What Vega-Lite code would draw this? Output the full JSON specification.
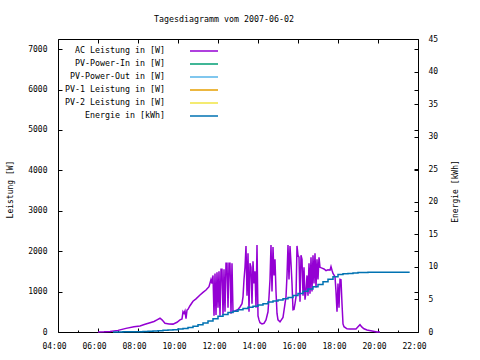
{
  "$schema": "https://vega.github.io/schema/vega-lite/v6.json",
  "width": 360,
  "height": 293,
  "autosize": {"type": "none"},
  "padding": {"left": 58, "top": 39, "right": 62, "bottom": 28},
  "background": "white",
  "config": {
    "view": {"stroke": "black", "strokeWidth": 1},
    "font": "DejaVu Sans Mono",
    "axis": {"labelFont": "DejaVu Sans Mono", "labelFontSize": 8, "labelColor": "black", "titleFont": "DejaVu Sans Mono", "titleFontSize": 8, "titleFontWeight": "normal", "titleColor": "black", "tickColor": "black", "domain": false, "grid": false, "tickSize": -4, "labelFlush": false, "labelOverlap": false}
  },
  "title": {"text": "Tagesdiagramm vom 2007-06-02", "font": "DejaVu Sans Mono", "fontSize": 8.3, "fontWeight": "normal", "color": "black", "anchor": "middle", "offset": 12, "dx": -14},
  "datasets": {
    "ac": [
      {"t":"2007-06-02T06:00","s":"AC Leistung in [W]","p":0},
      {"t":"2007-06-02T06:18","s":"AC Leistung in [W]","p":5},
      {"t":"2007-06-02T06:36","s":"AC Leistung in [W]","p":15},
      {"t":"2007-06-02T07:00","s":"AC Leistung in [W]","p":40},
      {"t":"2007-06-02T07:24","s":"AC Leistung in [W]","p":90},
      {"t":"2007-06-02T07:48","s":"AC Leistung in [W]","p":130},
      {"t":"2007-06-02T08:06","s":"AC Leistung in [W]","p":150},
      {"t":"2007-06-02T08:21","s":"AC Leistung in [W]","p":190},
      {"t":"2007-06-02T08:36","s":"AC Leistung in [W]","p":230},
      {"t":"2007-06-02T08:48","s":"AC Leistung in [W]","p":260},
      {"t":"2007-06-02T08:57","s":"AC Leistung in [W]","p":300},
      {"t":"2007-06-02T09:06","s":"AC Leistung in [W]","p":340},
      {"t":"2007-06-02T09:12","s":"AC Leistung in [W]","p":300},
      {"t":"2007-06-02T09:21","s":"AC Leistung in [W]","p":215},
      {"t":"2007-06-02T09:33","s":"AC Leistung in [W]","p":200},
      {"t":"2007-06-02T09:45","s":"AC Leistung in [W]","p":195},
      {"t":"2007-06-02T09:57","s":"AC Leistung in [W]","p":240},
      {"t":"2007-06-02T10:06","s":"AC Leistung in [W]","p":300},
      {"t":"2007-06-02T10:12","s":"AC Leistung in [W]","p":320},
      {"t":"2007-06-02T10:15","s":"AC Leistung in [W]","p":500},
      {"t":"2007-06-02T10:18","s":"AC Leistung in [W]","p":460},
      {"t":"2007-06-02T10:21","s":"AC Leistung in [W]","p":520},
      {"t":"2007-06-02T10:24","s":"AC Leistung in [W]","p":330},
      {"t":"2007-06-02T10:27","s":"AC Leistung in [W]","p":540},
      {"t":"2007-06-02T10:30","s":"AC Leistung in [W]","p":560},
      {"t":"2007-06-02T10:36","s":"AC Leistung in [W]","p":650},
      {"t":"2007-06-02T10:45","s":"AC Leistung in [W]","p":760},
      {"t":"2007-06-02T10:54","s":"AC Leistung in [W]","p":820},
      {"t":"2007-06-02T11:06","s":"AC Leistung in [W]","p":915},
      {"t":"2007-06-02T11:15","s":"AC Leistung in [W]","p":980},
      {"t":"2007-06-02T11:24","s":"AC Leistung in [W]","p":1040},
      {"t":"2007-06-02T11:33","s":"AC Leistung in [W]","p":1120},
      {"t":"2007-06-02T11:39","s":"AC Leistung in [W]","p":1300},
      {"t":"2007-06-02T11:42","s":"AC Leistung in [W]","p":1200},
      {"t":"2007-06-02T11:45","s":"AC Leistung in [W]","p":1400},
      {"t":"2007-06-02T11:48","s":"AC Leistung in [W]","p":400},
      {"t":"2007-06-02T11:51","s":"AC Leistung in [W]","p":1450},
      {"t":"2007-06-02T11:54","s":"AC Leistung in [W]","p":420},
      {"t":"2007-06-02T11:57","s":"AC Leistung in [W]","p":1480},
      {"t":"2007-06-02T12:00","s":"AC Leistung in [W]","p":600},
      {"t":"2007-06-02T12:03","s":"AC Leistung in [W]","p":1500},
      {"t":"2007-06-02T12:06","s":"AC Leistung in [W]","p":400},
      {"t":"2007-06-02T12:09","s":"AC Leistung in [W]","p":1550},
      {"t":"2007-06-02T12:12","s":"AC Leistung in [W]","p":1550},
      {"t":"2007-06-02T12:15","s":"AC Leistung in [W]","p":420},
      {"t":"2007-06-02T12:18","s":"AC Leistung in [W]","p":1550},
      {"t":"2007-06-02T12:21","s":"AC Leistung in [W]","p":500},
      {"t":"2007-06-02T12:24","s":"AC Leistung in [W]","p":1700},
      {"t":"2007-06-02T12:27","s":"AC Leistung in [W]","p":1700},
      {"t":"2007-06-02T12:30","s":"AC Leistung in [W]","p":600},
      {"t":"2007-06-02T12:33","s":"AC Leistung in [W]","p":1700},
      {"t":"2007-06-02T12:36","s":"AC Leistung in [W]","p":1700},
      {"t":"2007-06-02T12:39","s":"AC Leistung in [W]","p":450},
      {"t":"2007-06-02T12:42","s":"AC Leistung in [W]","p":1700},
      {"t":"2007-06-02T12:45","s":"AC Leistung in [W]","p":500},
      {"t":"2007-06-02T12:51","s":"AC Leistung in [W]","p":520},
      {"t":"2007-06-02T13:00","s":"AC Leistung in [W]","p":560},
      {"t":"2007-06-02T13:06","s":"AC Leistung in [W]","p":620},
      {"t":"2007-06-02T13:12","s":"AC Leistung in [W]","p":700},
      {"t":"2007-06-02T13:15","s":"AC Leistung in [W]","p":870},
      {"t":"2007-06-02T13:18","s":"AC Leistung in [W]","p":1300},
      {"t":"2007-06-02T13:21","s":"AC Leistung in [W]","p":1600},
      {"t":"2007-06-02T13:24","s":"AC Leistung in [W]","p":2130},
      {"t":"2007-06-02T13:27","s":"AC Leistung in [W]","p":900},
      {"t":"2007-06-02T13:30","s":"AC Leistung in [W]","p":1950},
      {"t":"2007-06-02T13:33","s":"AC Leistung in [W]","p":500},
      {"t":"2007-06-02T13:36","s":"AC Leistung in [W]","p":1700},
      {"t":"2007-06-02T13:39","s":"AC Leistung in [W]","p":1600},
      {"t":"2007-06-02T13:42","s":"AC Leistung in [W]","p":700},
      {"t":"2007-06-02T13:45","s":"AC Leistung in [W]","p":1750},
      {"t":"2007-06-02T13:48","s":"AC Leistung in [W]","p":1200},
      {"t":"2007-06-02T13:51","s":"AC Leistung in [W]","p":1500},
      {"t":"2007-06-02T13:54","s":"AC Leistung in [W]","p":600},
      {"t":"2007-06-02T13:57","s":"AC Leistung in [W]","p":2150},
      {"t":"2007-06-02T14:00","s":"AC Leistung in [W]","p":400},
      {"t":"2007-06-02T14:03","s":"AC Leistung in [W]","p":300},
      {"t":"2007-06-02T14:06","s":"AC Leistung in [W]","p":230},
      {"t":"2007-06-02T14:12","s":"AC Leistung in [W]","p":200},
      {"t":"2007-06-02T14:18","s":"AC Leistung in [W]","p":215},
      {"t":"2007-06-02T14:24","s":"AC Leistung in [W]","p":300},
      {"t":"2007-06-02T14:30","s":"AC Leistung in [W]","p":500},
      {"t":"2007-06-02T14:33","s":"AC Leistung in [W]","p":870},
      {"t":"2007-06-02T14:36","s":"AC Leistung in [W]","p":1300},
      {"t":"2007-06-02T14:39","s":"AC Leistung in [W]","p":2150},
      {"t":"2007-06-02T14:42","s":"AC Leistung in [W]","p":1000},
      {"t":"2007-06-02T14:45","s":"AC Leistung in [W]","p":2100},
      {"t":"2007-06-02T14:48","s":"AC Leistung in [W]","p":1400},
      {"t":"2007-06-02T14:51","s":"AC Leistung in [W]","p":1800},
      {"t":"2007-06-02T14:54","s":"AC Leistung in [W]","p":1000},
      {"t":"2007-06-02T14:57","s":"AC Leistung in [W]","p":460},
      {"t":"2007-06-02T15:00","s":"AC Leistung in [W]","p":300},
      {"t":"2007-06-02T15:06","s":"AC Leistung in [W]","p":250},
      {"t":"2007-06-02T15:15","s":"AC Leistung in [W]","p":360},
      {"t":"2007-06-02T15:21","s":"AC Leistung in [W]","p":700},
      {"t":"2007-06-02T15:24","s":"AC Leistung in [W]","p":870},
      {"t":"2007-06-02T15:27","s":"AC Leistung in [W]","p":1400},
      {"t":"2007-06-02T15:30","s":"AC Leistung in [W]","p":2150},
      {"t":"2007-06-02T15:33","s":"AC Leistung in [W]","p":1300},
      {"t":"2007-06-02T15:36","s":"AC Leistung in [W]","p":2130},
      {"t":"2007-06-02T15:39","s":"AC Leistung in [W]","p":1700},
      {"t":"2007-06-02T15:42","s":"AC Leistung in [W]","p":1200},
      {"t":"2007-06-02T15:45","s":"AC Leistung in [W]","p":550},
      {"t":"2007-06-02T15:48","s":"AC Leistung in [W]","p":560},
      {"t":"2007-06-02T15:51","s":"AC Leistung in [W]","p":700},
      {"t":"2007-06-02T15:54","s":"AC Leistung in [W]","p":870},
      {"t":"2007-06-02T15:57","s":"AC Leistung in [W]","p":2130},
      {"t":"2007-06-02T16:00","s":"AC Leistung in [W]","p":1900},
      {"t":"2007-06-02T16:03","s":"AC Leistung in [W]","p":1850},
      {"t":"2007-06-02T16:06","s":"AC Leistung in [W]","p":750},
      {"t":"2007-06-02T16:09","s":"AC Leistung in [W]","p":1900},
      {"t":"2007-06-02T16:12","s":"AC Leistung in [W]","p":1800},
      {"t":"2007-06-02T16:15","s":"AC Leistung in [W]","p":900},
      {"t":"2007-06-02T16:18","s":"AC Leistung in [W]","p":1600},
      {"t":"2007-06-02T16:21","s":"AC Leistung in [W]","p":800},
      {"t":"2007-06-02T16:24","s":"AC Leistung in [W]","p":1000},
      {"t":"2007-06-02T16:27","s":"AC Leistung in [W]","p":1400},
      {"t":"2007-06-02T16:30","s":"AC Leistung in [W]","p":900},
      {"t":"2007-06-02T16:33","s":"AC Leistung in [W]","p":1700},
      {"t":"2007-06-02T16:36","s":"AC Leistung in [W]","p":950},
      {"t":"2007-06-02T16:39","s":"AC Leistung in [W]","p":1850},
      {"t":"2007-06-02T16:42","s":"AC Leistung in [W]","p":1000},
      {"t":"2007-06-02T16:45","s":"AC Leistung in [W]","p":1900},
      {"t":"2007-06-02T16:48","s":"AC Leistung in [W]","p":1200},
      {"t":"2007-06-02T16:51","s":"AC Leistung in [W]","p":1950},
      {"t":"2007-06-02T16:54","s":"AC Leistung in [W]","p":1100},
      {"t":"2007-06-02T16:57","s":"AC Leistung in [W]","p":1800},
      {"t":"2007-06-02T17:00","s":"AC Leistung in [W]","p":1300},
      {"t":"2007-06-02T17:03","s":"AC Leistung in [W]","p":1850},
      {"t":"2007-06-02T17:06","s":"AC Leistung in [W]","p":1600},
      {"t":"2007-06-02T17:12","s":"AC Leistung in [W]","p":1580},
      {"t":"2007-06-02T17:18","s":"AC Leistung in [W]","p":1560},
      {"t":"2007-06-02T17:24","s":"AC Leistung in [W]","p":1520},
      {"t":"2007-06-02T17:30","s":"AC Leistung in [W]","p":1540},
      {"t":"2007-06-02T17:36","s":"AC Leistung in [W]","p":1530},
      {"t":"2007-06-02T17:39","s":"AC Leistung in [W]","p":1620},
      {"t":"2007-06-02T17:42","s":"AC Leistung in [W]","p":1530},
      {"t":"2007-06-02T17:45","s":"AC Leistung in [W]","p":1450},
      {"t":"2007-06-02T17:51","s":"AC Leistung in [W]","p":1370},
      {"t":"2007-06-02T17:54","s":"AC Leistung in [W]","p":1000},
      {"t":"2007-06-02T17:57","s":"AC Leistung in [W]","p":500},
      {"t":"2007-06-02T18:00","s":"AC Leistung in [W]","p":1200},
      {"t":"2007-06-02T18:03","s":"AC Leistung in [W]","p":600},
      {"t":"2007-06-02T18:06","s":"AC Leistung in [W]","p":1300},
      {"t":"2007-06-02T18:09","s":"AC Leistung in [W]","p":1290},
      {"t":"2007-06-02T18:12","s":"AC Leistung in [W]","p":700},
      {"t":"2007-06-02T18:15","s":"AC Leistung in [W]","p":200},
      {"t":"2007-06-02T18:18","s":"AC Leistung in [W]","p":130},
      {"t":"2007-06-02T18:27","s":"AC Leistung in [W]","p":80},
      {"t":"2007-06-02T18:36","s":"AC Leistung in [W]","p":75},
      {"t":"2007-06-02T18:54","s":"AC Leistung in [W]","p":75},
      {"t":"2007-06-02T19:00","s":"AC Leistung in [W]","p":130},
      {"t":"2007-06-02T19:06","s":"AC Leistung in [W]","p":180},
      {"t":"2007-06-02T19:12","s":"AC Leistung in [W]","p":120},
      {"t":"2007-06-02T19:18","s":"AC Leistung in [W]","p":80},
      {"t":"2007-06-02T19:27","s":"AC Leistung in [W]","p":50},
      {"t":"2007-06-02T19:42","s":"AC Leistung in [W]","p":25},
      {"t":"2007-06-02T19:57","s":"AC Leistung in [W]","p":0},
      {"t":"2007-06-02T20:06","s":"AC Leistung in [W]","p":0}
    ],
    "energy": [
      {"t":"2007-06-02T06:45","s":"Energie in [kWh]","e":0},
      {"t":"2007-06-02T07:15","s":"Energie in [kWh]","e":0.02},
      {"t":"2007-06-02T07:45","s":"Energie in [kWh]","e":0.04},
      {"t":"2007-06-02T08:15","s":"Energie in [kWh]","e":0.07},
      {"t":"2007-06-02T08:30","s":"Energie in [kWh]","e":0.1},
      {"t":"2007-06-02T08:45","s":"Energie in [kWh]","e":0.15},
      {"t":"2007-06-02T09:00","s":"Energie in [kWh]","e":0.2},
      {"t":"2007-06-02T09:15","s":"Energie in [kWh]","e":0.25},
      {"t":"2007-06-02T09:30","s":"Energie in [kWh]","e":0.3},
      {"t":"2007-06-02T09:45","s":"Energie in [kWh]","e":0.35},
      {"t":"2007-06-02T10:00","s":"Energie in [kWh]","e":0.45},
      {"t":"2007-06-02T10:15","s":"Energie in [kWh]","e":0.55},
      {"t":"2007-06-02T10:30","s":"Energie in [kWh]","e":0.7},
      {"t":"2007-06-02T10:45","s":"Energie in [kWh]","e":0.9},
      {"t":"2007-06-02T11:00","s":"Energie in [kWh]","e":1.1},
      {"t":"2007-06-02T11:15","s":"Energie in [kWh]","e":1.4},
      {"t":"2007-06-02T11:30","s":"Energie in [kWh]","e":1.7},
      {"t":"2007-06-02T11:45","s":"Energie in [kWh]","e":2.05},
      {"t":"2007-06-02T12:00","s":"Energie in [kWh]","e":2.4},
      {"t":"2007-06-02T12:15","s":"Energie in [kWh]","e":2.7},
      {"t":"2007-06-02T12:30","s":"Energie in [kWh]","e":3.0},
      {"t":"2007-06-02T12:45","s":"Energie in [kWh]","e":3.2},
      {"t":"2007-06-02T13:00","s":"Energie in [kWh]","e":3.4},
      {"t":"2007-06-02T13:15","s":"Energie in [kWh]","e":3.6},
      {"t":"2007-06-02T13:30","s":"Energie in [kWh]","e":3.8},
      {"t":"2007-06-02T13:45","s":"Energie in [kWh]","e":3.95},
      {"t":"2007-06-02T14:00","s":"Energie in [kWh]","e":4.15},
      {"t":"2007-06-02T14:15","s":"Energie in [kWh]","e":4.35},
      {"t":"2007-06-02T14:30","s":"Energie in [kWh]","e":4.6},
      {"t":"2007-06-02T14:45","s":"Energie in [kWh]","e":4.75},
      {"t":"2007-06-02T15:00","s":"Energie in [kWh]","e":4.9},
      {"t":"2007-06-02T15:15","s":"Energie in [kWh]","e":5.1},
      {"t":"2007-06-02T15:30","s":"Energie in [kWh]","e":5.3},
      {"t":"2007-06-02T15:45","s":"Energie in [kWh]","e":5.6},
      {"t":"2007-06-02T16:00","s":"Energie in [kWh]","e":5.9},
      {"t":"2007-06-02T16:15","s":"Energie in [kWh]","e":6.25},
      {"t":"2007-06-02T16:30","s":"Energie in [kWh]","e":6.6},
      {"t":"2007-06-02T16:45","s":"Energie in [kWh]","e":6.95},
      {"t":"2007-06-02T17:00","s":"Energie in [kWh]","e":7.3},
      {"t":"2007-06-02T17:15","s":"Energie in [kWh]","e":7.7},
      {"t":"2007-06-02T17:30","s":"Energie in [kWh]","e":8.1},
      {"t":"2007-06-02T17:45","s":"Energie in [kWh]","e":8.5},
      {"t":"2007-06-02T18:00","s":"Energie in [kWh]","e":8.85},
      {"t":"2007-06-02T18:15","s":"Energie in [kWh]","e":8.95},
      {"t":"2007-06-02T18:30","s":"Energie in [kWh]","e":9.0},
      {"t":"2007-06-02T18:45","s":"Energie in [kWh]","e":9.05},
      {"t":"2007-06-02T19:00","s":"Energie in [kWh]","e":9.12},
      {"t":"2007-06-02T19:15","s":"Energie in [kWh]","e":9.15},
      {"t":"2007-06-02T19:30","s":"Energie in [kWh]","e":9.17},
      {"t":"2007-06-02T21:35","s":"Energie in [kWh]","e":9.17}
    ]
  },
  "layer": [
    {
      "data": {"name": "ac"},
      "mark": {"type": "line", "strokeWidth": 1.5},
      "encoding": {
        "x": {"field": "t", "type": "temporal",
          "scale": {"domain": [{"year": 2007, "month": 6, "date": 2, "hours": 4}, {"year": 2007, "month": 6, "date": 2, "hours": 22}]},
          "axis": {"orient": "bottom", "format": "%H:%M", "labelPadding": 14, "labelOffset": -4, "labelOverlap": false, "labelFlush": false, "labelBound": false, "title": null,
            "values": [
              {"year": 2007, "month": 6, "date": 2, "hours": 4},
              {"year": 2007, "month": 6, "date": 2, "hours": 6},
              {"year": 2007, "month": 6, "date": 2, "hours": 8},
              {"year": 2007, "month": 6, "date": 2, "hours": 10},
              {"year": 2007, "month": 6, "date": 2, "hours": 12},
              {"year": 2007, "month": 6, "date": 2, "hours": 14},
              {"year": 2007, "month": 6, "date": 2, "hours": 16},
              {"year": 2007, "month": 6, "date": 2, "hours": 18},
              {"year": 2007, "month": 6, "date": 2, "hours": 20},
              {"year": 2007, "month": 6, "date": 2, "hours": 22}
            ]}},
        "y": {"field": "p", "type": "quantitative",
          "scale": {"domain": [0, 7250], "nice": false, "zero": true},
          "axis": {"orient": "left", "values": [0, 1000, 2000, 3000, 4000, 5000, 6000, 7000], "format": "d", "labelPadding": 15, "title": "Leistung [W]", "titleX": -48, "titleY": 150, "titleAngle": -90, "titleAlign": "center", "titleBaseline": "middle"}},
        "color": {"field": "s", "type": "nominal",
          "scale": {"domain": ["AC Leistung in [W]", "PV-Power-In in [W]", "PV-Power-Out in [W]", "PV-1 Leistung in [W]", "PV-2 Leistung in [W]", "Energie in [kWh]"], "range": ["#9400D3", "#009E73", "#56B4E9", "#E69F00", "#F0E442", "#0072B2"]},
          "legend": {"orient": "none", "legendX": 140, "legendY": 6, "title": null, "padding": 0, "symbolType": "M-2.8,0H2.8", "symbolSize": 100, "symbolStrokeWidth": 1.5, "symbolFillColor": "transparent", "labelFont": "DejaVu Sans Mono", "labelFontSize": 8.3, "labelColor": "black", "labelAlign": "right", "labelOffset": -45, "rowPadding": 3}}
      }
    },
    {
      "data": {"name": "energy"},
      "mark": {"type": "line", "strokeWidth": 1.5, "interpolate": "step-after"},
      "encoding": {
        "x": {"field": "t", "type": "temporal",
          "axis": {"orient": "top", "labels": false, "title": null,
            "values": [
              {"year": 2007, "month": 6, "date": 2, "hours": 4},
              {"year": 2007, "month": 6, "date": 2, "hours": 6},
              {"year": 2007, "month": 6, "date": 2, "hours": 8},
              {"year": 2007, "month": 6, "date": 2, "hours": 10},
              {"year": 2007, "month": 6, "date": 2, "hours": 12},
              {"year": 2007, "month": 6, "date": 2, "hours": 14},
              {"year": 2007, "month": 6, "date": 2, "hours": 16},
              {"year": 2007, "month": 6, "date": 2, "hours": 18},
              {"year": 2007, "month": 6, "date": 2, "hours": 20},
              {"year": 2007, "month": 6, "date": 2, "hours": 22}
            ]}},
        "y": {"field": "e", "type": "quantitative",
          "scale": {"domain": [0, 45], "nice": false},
          "axis": {"orient": "right", "values": [0, 5, 10, 15, 20, 25, 30, 35, 40, 45], "labelPadding": 14, "title": "Energie [kWh]", "titleX": 37, "titleY": 152, "titleAngle": -90, "titleAlign": "center", "titleBaseline": "middle"}},
        "color": {"field": "s", "type": "nominal"}
      }
    },
    {
      "data": {"name": "ac"},
      "mark": {"type": "line", "opacity": 0},
      "encoding": {
        "x": {"field": "t", "type": "temporal",
          "axis": {"orient": "bottom", "labels": false, "title": null, "tickSize": -2,
            "values": [
              {"year": 2007, "month": 6, "date": 2, "hours": 5},
              {"year": 2007, "month": 6, "date": 2, "hours": 7},
              {"year": 2007, "month": 6, "date": 2, "hours": 9},
              {"year": 2007, "month": 6, "date": 2, "hours": 11},
              {"year": 2007, "month": 6, "date": 2, "hours": 13},
              {"year": 2007, "month": 6, "date": 2, "hours": 15},
              {"year": 2007, "month": 6, "date": 2, "hours": 17},
              {"year": 2007, "month": 6, "date": 2, "hours": 19},
              {"year": 2007, "month": 6, "date": 2, "hours": 21}
            ]}},
        "y": {"field": "p", "type": "quantitative",
          "scale": {"domain": [0, 7250], "nice": false},
          "axis": {"orient": "right", "labels": false, "title": null, "values": [1000, 2000, 3000, 4000, 5000, 6000, 7000]}}
      }
    }
  ],
  "resolve": {"scale": {"y": "independent"}, "axis": {"x": "independent"}}
}
